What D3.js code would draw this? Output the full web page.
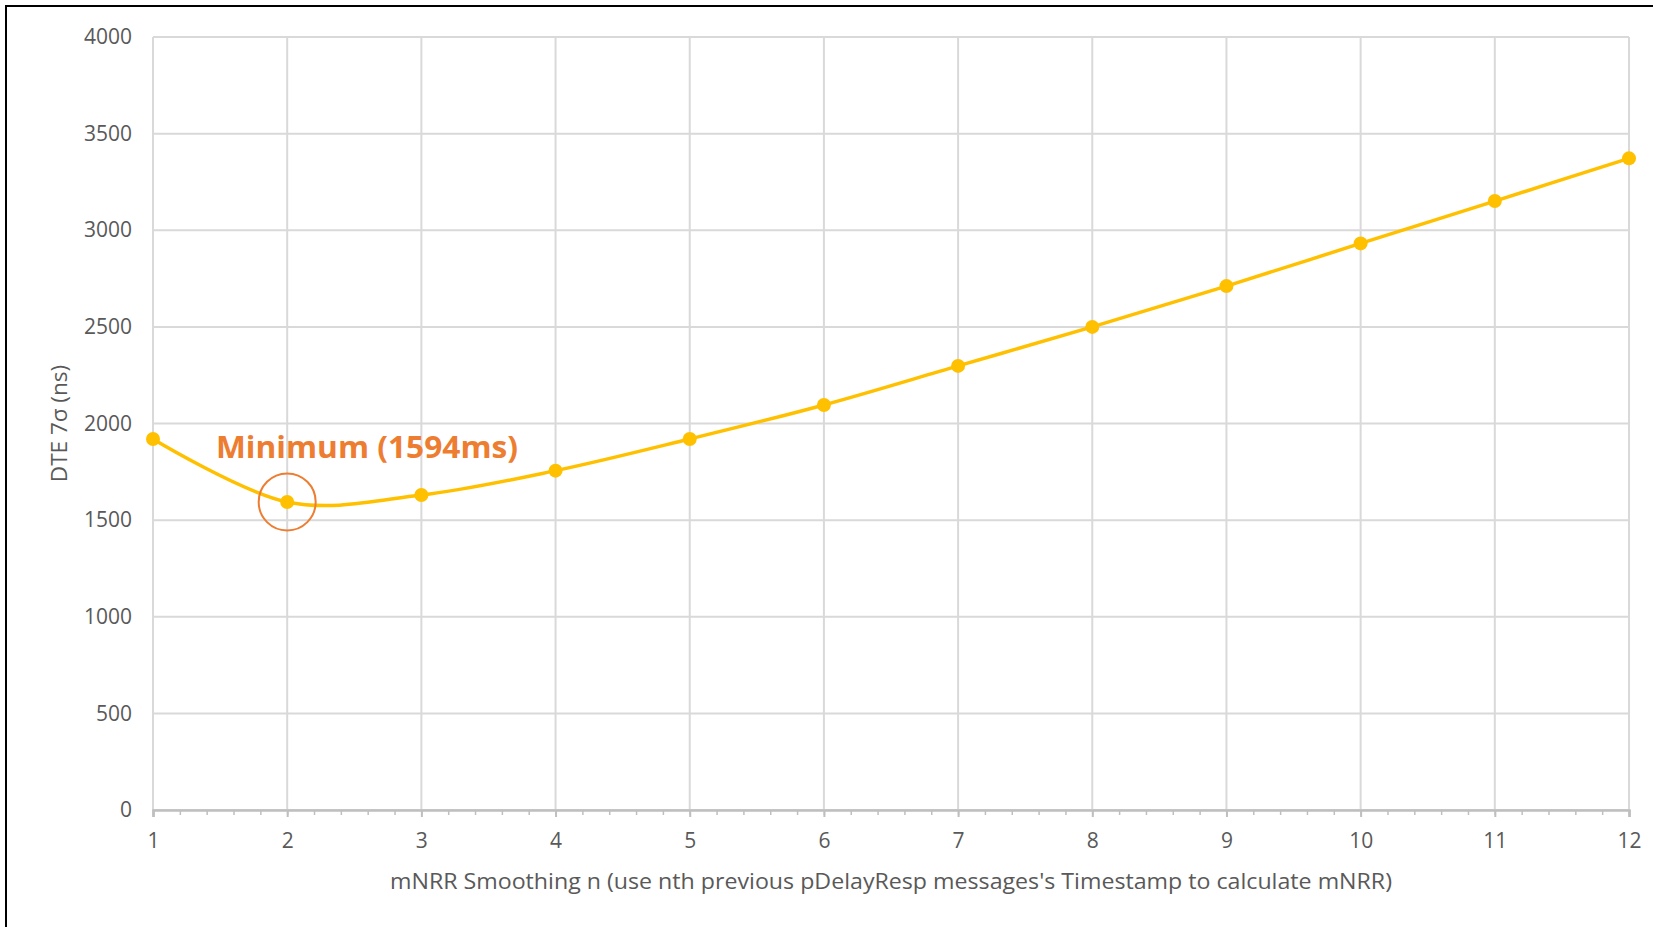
<!DOCTYPE html>
<html lang="en">
<head>
    <meta charset="UTF-8">
    <title>DTE vs mNRR smoothing</title>
    <script src="https://cdn.jsdelivr.net/npm/d3@7"></script>
    <style>
        body {
            margin: 0;
            background-color: #ffffff;
        }

        text.tick-label {
            font-family: "Open Sans", sans-serif;
            font-size: 21px;
            fill: #595959;
        }

        text.axis-title {
            font-family: "Open Sans", sans-serif;
            font-size: 21px;
            fill: #595959;
        }

        text.y-title {
            font-size: 22.5px;
        }

        text.note {
            font-family: "Open Sans", sans-serif;
            font-size: 31px;
            font-weight: bold;
            fill: #ed7d31;
        }
    </style>
</head>
<body>
<div id="chart"></div>
<script type="text/javascript">
    // smoothing n on the x axis
    var nValues = [1, 2, 3, 4, 5, 6, 7, 8, 9, 10, 11, 12];
    // DTE 7 sigma in ns
    var dteValues = [1920, 1594, 1630, 1756, 1920, 2096, 2298, 2500, 2711, 2932, 3151, 3372];
    var yTicks = [0, 500, 1000, 1500, 2000, 2500, 3000, 3500, 4000];
    var xTitle = "mNRR Smoothing n (use nth previous pDelayResp messages's Timestamp to calculate mNRR)";
    var yTitle = "DTE 7σ (ns)";
    var noteText = "Minimum (1594ms)";
    var minIndex = 1;

    const W = 1653, H = 927;
    const margin = {top: 37, right: 24, bottom: 117, left: 153},
        width = W - margin.left - margin.right,
        height = H - margin.top - margin.bottom;

    const root = d3.select("#chart").append("svg")
        .attr("width", W)
        .attr("height", H);

    // outer frame (only top and left edges show in the picture)
    root.append("rect")
        .attr("x", 6)
        .attr("y", 6)
        .attr("width", W + 20)
        .attr("height", H + 20)
        .attr("fill", "none")
        .attr("stroke", "#000")
        .attr("stroke-width", 2);

    const svg = root.append("g")
        .attr("transform", "translate(" + margin.left + "," + margin.top + ")");

    var x = d3.scaleLinear().domain([1, 12]).range([0, width]);
    var y = d3.scaleLinear().domain([0, 4000]).range([height, 0]);

    // horizontal grid
    svg.append("g")
        .selectAll("line")
        .data(yTicks)
        .enter().append("line")
        .attr("x1", 0)
        .attr("x2", width)
        .attr("y1", d => y(d))
        .attr("y2", d => y(d))
        .attr("stroke", "#d9d9d9")
        .attr("stroke-width", 2);

    // vertical grid
    svg.append("g")
        .selectAll("line")
        .data(nValues)
        .enter().append("line")
        .attr("x1", d => x(d))
        .attr("x2", d => x(d))
        .attr("y1", 0)
        .attr("y2", height)
        .attr("stroke", "#d9d9d9")
        .attr("stroke-width", 2);

    // x axis: minor ticks every 0.2, major at each integer
    var minor = d3.range(1, 12.001, 0.2);
    svg.append("g")
        .attr("class", "x_axis_minor")
        .attr("transform", "translate(0," + height + ")")
        .call(d3.axisBottom(x).tickValues(minor).tickSize(5).tickFormat(""))
        .call(g => g.select(".domain").remove())
        .selectAll("line")
        .attr("stroke", "#bfbfbf")
        .attr("stroke-width", 1.5);

    var xAxis = svg.append("g")
        .attr("transform", "translate(0," + height + ")")
        .call(d3.axisBottom(x).tickValues(nValues).tickSize(7).tickPadding(16).tickFormat(d3.format("d")));
    xAxis.select(".domain")
        .attr("stroke", "#bfbfbf")
        .attr("stroke-width", 2.5);
    xAxis.selectAll("line")
        .attr("stroke", "#bfbfbf")
        .attr("stroke-width", 2);
    xAxis.selectAll("text")
        .attr("class", "tick-label")
        .attr("fill", null)
        .attr("font-size", null)
        .attr("font-family", null);

    // y axis labels
    var yAxis = svg.append("g")
        .call(d3.axisLeft(y).tickValues(yTicks).tickSize(0).tickPadding(21).tickFormat(d3.format("d")));
    yAxis.select(".domain").remove();
    yAxis.selectAll("text")
        .attr("class", "tick-label")
        .attr("fill", null)
        .attr("font-size", null)
        .attr("font-family", null);

    // axis titles
    svg.append("text")
        .attr("class", "axis-title")
        .attr("x", width / 2)
        .attr("y", height + 79)
        .attr("text-anchor", "middle")
        .attr("textLength", 1002)
        .attr("lengthAdjust", "spacingAndGlyphs")
        .text(xTitle);

    svg.append("text")
        .attr("class", "axis-title y-title")
        .attr("transform", "translate(" + (67 - margin.left) + "," + (height / 2) + ") rotate(-90)")
        .attr("text-anchor", "middle")
        .text(yTitle);

    // the series, smoothed like the spreadsheet line
    var pts = nValues.map((n, i) => [n, dteValues[i]]);
    var line = d3.line()
        .x(d => x(d[0]))
        .y(d => y(d[1]))
        .curve(d3.curveCardinal.tension(0));

    svg.append("path")
        .datum(pts)
        .attr("fill", "none")
        .attr("stroke", "#ffc000")
        .attr("stroke-width", 3.5)
        .attr("stroke-linejoin", "round")
        .attr("d", line);

    svg.selectAll("circle.dot")
        .data(pts)
        .enter().append("circle")
        .attr("class", "dot")
        .attr("cx", d => x(d[0]))
        .attr("cy", d => y(d[1]))
        .attr("r", 7)
        .attr("fill", "#ffc000");

    // annotation for the minimum
    svg.append("circle")
        .attr("cx", x(nValues[minIndex]))
        .attr("cy", y(dteValues[minIndex]))
        .attr("r", 28.5)
        .attr("fill", "none")
        .attr("stroke", "#ed7d31")
        .attr("stroke-width", 2);

    svg.append("text")
        .attr("class", "note")
        .attr("x", 216 - margin.left)
        .attr("y", 458 - margin.top)
        .attr("textLength", 302)
        .attr("lengthAdjust", "spacingAndGlyphs")
        .text(noteText);
</script>
</body>
</html>
